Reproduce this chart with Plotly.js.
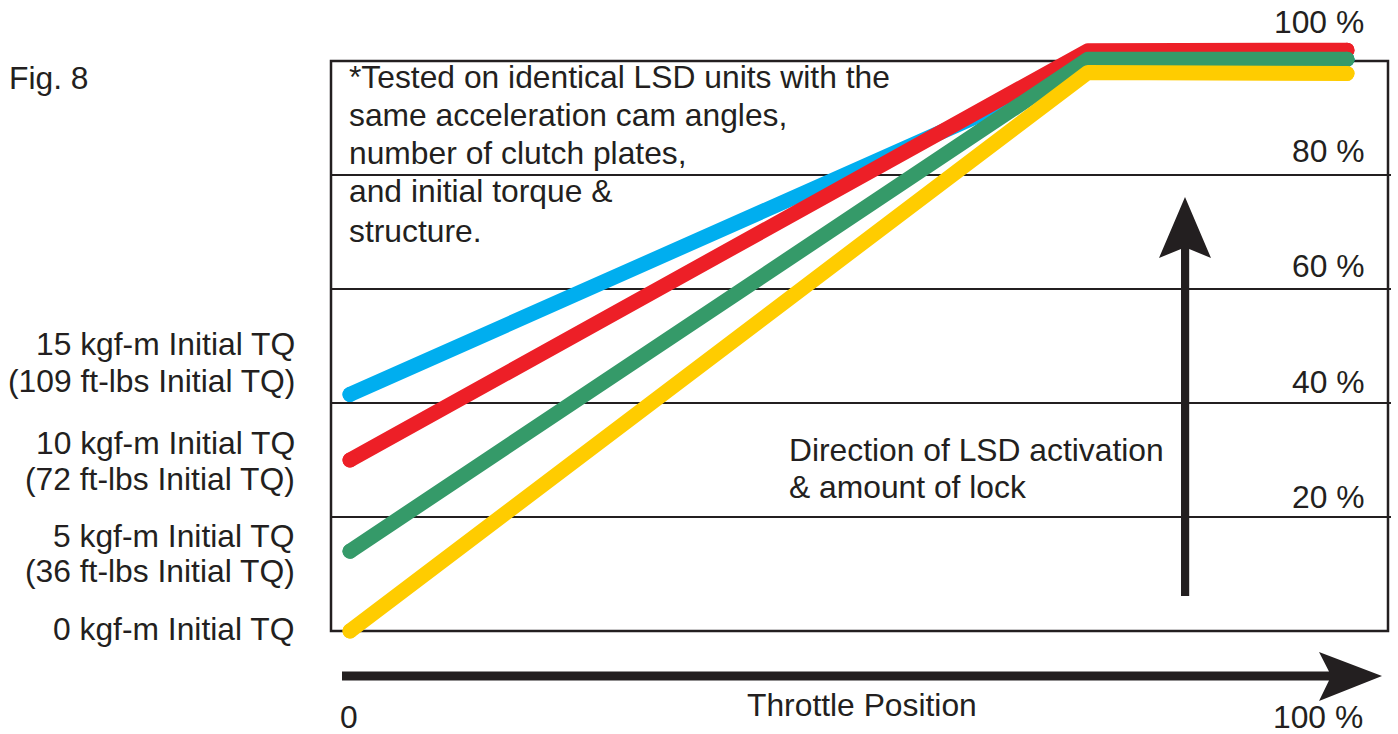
<!DOCTYPE html>
<html>
<head>
<meta charset="utf-8">
<script src="https://cdn.plot.ly/plotly-3.0.1.min.js"></script>
<style>html,body{margin:0;padding:0;background:#fff}#chart{width:1398px;height:734px}</style>
</head>
<body>
<div id="chart"></div>
<script>
// ---------- data ----------
const throttle = [0, 74, 100];          // throttle position (%)
const throttleBlue = [0, 76, 100];
const lock15 = [41.5, 100.5, 100.3];    // 15 kgf-m initial TQ (blue)
const lock10 = [30, 101.8, 101.9];      // 10 kgf-m initial TQ (red)
const lock5  = [14, 100.3, 100.3];      // 5 kgf-m initial TQ (green)
const lock0  = [0, 98, 97.8];           // 0 kgf-m initial TQ (yellow)

const gridVals = [20, 40, 60, 80];
const pctTickVals = [20, 40, 60, 80, 100];
const pctTickText = ["20 %", "40 %", "60 %", "80 %", "100 %"];

const seriesLabelLines = [
  "15 kgf-m Initial TQ", "(109 ft-lbs Initial TQ)",
  "10 kgf-m Initial TQ", "(72 ft-lbs Initial TQ)",
  "5 kgf-m Initial TQ", "(36 ft-lbs Initial TQ)",
  "0 kgf-m Initial TQ"
];
const noteLines = [
  "*Tested on identical LSD units with the",
  "same acceleration cam angles,",
  "number of clutch plates,",
  "and initial torque &",
  "structure."
];
const directionLines = ["Direction of LSD activation", "& amount of lock"];
const figLabel = "Fig. 8";
const xTitle = "Throttle Position";
const xStartLabel = "0";
const xEndLabel = "100 %";

// ---------- layout helpers ----------
const W = 1398, H = 734;
const X0PX = 350, XPX = 9.97, Y0PX = 631, YPX = 5.7;
const xr = [(0 - X0PX) / XPX, (W - X0PX) / XPX];
const yr = [(Y0PX - H) / YPX, Y0PX / YPX];
const px = v => v / W;
const py = v => 1 - v / H;
const dx = v => (v - X0PX) / XPX;

const FONT = '"Liberation Sans", Arial, Helvetica, sans-serif';
const FS = 31.8;
const INK = '#231f20';
const LW = 15;

function series(x, y, color) {
  return {
    x: x, y: y, type: 'scatter', mode: 'lines+markers',
    line: {color: color, width: LW},
    marker: {color: color, size: [LW, 0, LW], opacity: 1, line: {width: 0}},
    hoverinfo: 'skip'
  };
}

const traces = [
  series(throttleBlue, lock15, '#00aeef'),
  series(throttle, lock10, '#ed1f27'),
  series(throttle, lock5, '#359a69'),
  series(throttle, lock0, '#ffcc00')
];

const shapes = [];
shapes.push({type: 'rect', xref: 'x', yref: 'y', x0: dx(331), x1: dx(1388), y0: 0, y1: 100,
  line: {color: INK, width: 2.5}, fillcolor: 'rgba(0,0,0,0)', layer: 'below'});
gridVals.forEach(v => shapes.push({type: 'line', xref: 'x', yref: 'y', x0: dx(331), x1: dx(1391), y0: v, y1: v,
  line: {color: INK, width: 2}, layer: 'below'}));

function pathPx(pts) {
  return 'M ' + pts.map(p => px(p[0]) + ',' + py(p[1])).join(' L ') + ' Z';
}
// vertical arrow
shapes.push({type: 'path', xref: 'paper', yref: 'paper', fillcolor: INK, line: {width: 0},
  path: pathPx([[1185,197],[1211,258],[1189.2,249],[1189.2,596],[1181,596],[1181,249],[1159,258]])});
// horizontal arrow
shapes.push({type: 'path', xref: 'paper', yref: 'paper', fillcolor: INK, line: {width: 0},
  path: pathPx([[342,671.5],[1329,671.5],[1319,652],[1382,676],[1319,701],[1329,680.5],[342,680.5]])});

const annotations = [];
function txt(text, xPx, yPx, xanchor) {
  annotations.push({text: text, xref: 'paper', yref: 'paper', x: px(xPx), y: py(yPx),
    xanchor: xanchor, yanchor: 'middle', showarrow: false,
    font: {family: FONT, size: FS, color: INK}, borderpad: 0});
}
txt(figLabel, 8, 78, 'left');
const noteY = [76.5, 115.5, 153.5, 191.5, 230.5];
noteLines.forEach((t, i) => txt(t, 348, noteY[i], 'left'));
const labY = [343.5, 380.5, 442.5, 478.5, 535.5, 570.5, 628.5];
seriesLabelLines.forEach((t, i) => txt(t, 296, labY[i], 'right'));
const dirY = [449.5, 486.5];
directionLines.forEach((t, i) => txt(t, 788, dirY[i], 'left'));
txt(xStartLabel, 349, 716.5, 'center');
txt(xTitle, 862, 704.5, 'center');
txt(xEndLabel, 1364, 716.5, 'right');
const pctShift = {20: 20, 40: 21, 60: 23, 80: 24, 100: 39};
pctTickVals.forEach((v, i) => annotations.push({
  text: pctTickText[i], xref: 'paper', yref: 'y', x: px(1365), y: v,
  xanchor: 'right', yanchor: 'middle', yshift: pctShift[v], showarrow: false,
  font: {family: FONT, size: FS, color: INK}, borderpad: 0
}));

const layout = {
  width: W, height: H,
  margin: {l: 0, r: 0, t: 0, b: 0, pad: 0},
  paper_bgcolor: '#ffffff', plot_bgcolor: '#ffffff',
  showlegend: false,
  xaxis: {range: xr, visible: false, fixedrange: true},
  yaxis: {range: yr, visible: false, fixedrange: true},
  shapes: shapes,
  annotations: annotations
};

Plotly.newPlot('chart', traces, layout, {displayModeBar: false, staticPlot: true}).then(gd => {
  gd.querySelectorAll('.scatterlayer .js-line').forEach(p => {
    p.style.strokeLinecap = 'round';
    p.style.strokeLinejoin = 'round';
  });
});
</script>
</body>
</html>
